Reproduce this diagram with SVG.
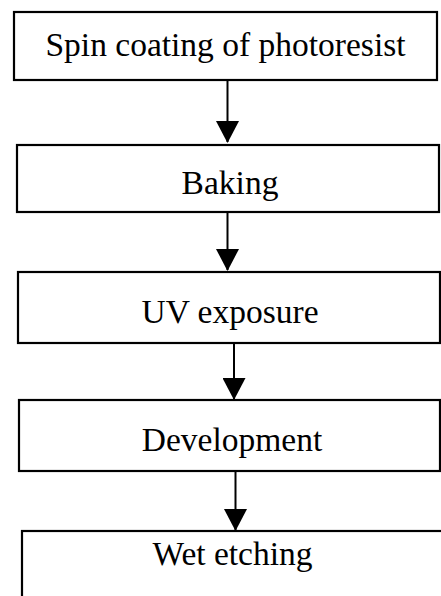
<svg xmlns="http://www.w3.org/2000/svg" width="441" height="596" viewBox="0 0 441 596">
<style>
.box{fill:#fff;stroke:#000;stroke-width:2.2}
.lbl{font-family:"Liberation Serif","Times New Roman",serif;font-size:33.5px;fill:#000;text-anchor:middle}
.conn{stroke:#000;stroke-width:2;fill:none}
</style>
<defs>
<marker id="ah" markerUnits="userSpaceOnUse" markerWidth="22" markerHeight="23" refX="21" refY="11.5" orient="auto" viewBox="0 0 22 23">
<path d="M0,0 L22,11.5 L0,23 z" fill="#000"/>
</marker>
</defs>
<rect width="441" height="596" fill="#fff"/>
<g id="node-spin">
<rect class="box" x="14" y="12" width="423" height="68"/>
<text class="lbl" x="225.5" y="56">Spin coating of photoresist</text>
</g>
<g id="node-baking">
<rect class="box" x="17" y="145" width="422" height="67"/>
<text class="lbl" x="230" y="194">Baking</text>
</g>
<g id="node-uv">
<rect class="box" x="18" y="272" width="422" height="71"/>
<text class="lbl" x="230" y="323">UV exposure</text>
</g>
<g id="node-development">
<rect class="box" x="19" y="400" width="421" height="71"/>
<text class="lbl" x="232" y="451">Development</text>
</g>
<g id="node-wet">
<rect class="box" x="22" y="531" width="422" height="80"/>
<text class="lbl" x="232.5" y="565">Wet etching</text>
</g>
<g id="connectors">
<line class="conn" x1="227.5" y1="81" x2="227.5" y2="142" marker-end="url(#ah)"/>
<line class="conn" x1="227.5" y1="213" x2="227.5" y2="270" marker-end="url(#ah)"/>
<line class="conn" x1="234" y1="344" x2="234" y2="399" marker-end="url(#ah)"/>
<line class="conn" x1="235.5" y1="472" x2="235.5" y2="530" marker-end="url(#ah)"/>
</g>
</svg>
